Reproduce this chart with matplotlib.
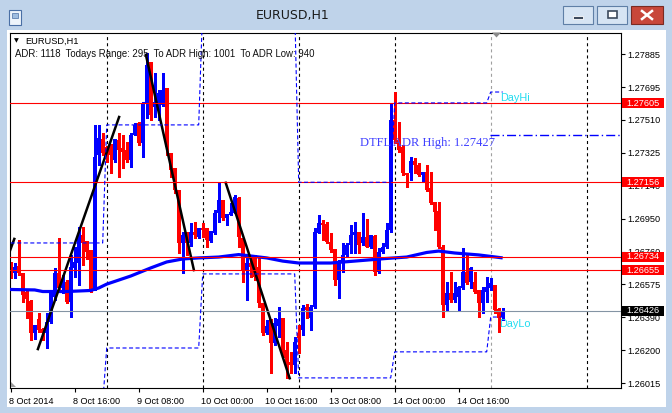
import matplotlib
matplotlib.use('Agg')
import matplotlib.pyplot as plt
import matplotlib.transforms as mtransforms
from matplotlib.patches import Rectangle, Polygon
from matplotlib.lines import Line2D
import numpy as np

plt.rcParams['lines.scale_dashes'] = False

# ---------------------------------------------------------------------------
# Data (EURUSD H1, bar 0 = 8 Oct 2014 00:00)
# ---------------------------------------------------------------------------
opens = [1.26686, 1.26640, 1.26680, 1.26640, 1.26533, 1.26481, 1.26299, 1.26379,
         1.26322, 1.26299, 1.26362, 1.26504, 1.26640, 1.26555, 1.26589, 1.26476,
         1.26669, 1.26697, 1.26857, 1.26822, 1.26771, 1.26555, 1.27311, 1.27402,
         1.27356, 1.27373, 1.27283, 1.27396, 1.27351, 1.27339, 1.27283, 1.27425,
         1.27493, 1.27379, 1.27607, 1.27840, 1.27584, 1.27596, 1.27596, 1.27692,
         1.27322, 1.27238, 1.27112, 1.26811, 1.26857, 1.26811, 1.26874, 1.26845,
         1.26897, 1.26897, 1.26822, 1.26868, 1.26981, 1.27055, 1.26953, 1.26970,
         1.26981, 1.27067, 1.26840, 1.26657, 1.26697, 1.26731, 1.26674, 1.26470,
         1.26299, 1.26379, 1.26242, 1.26339, 1.26385, 1.26203, 1.26135, 1.26118,
         1.26299, 1.26316, 1.26447, 1.26385, 1.26447, 1.26868, 1.26925, 1.26919,
         1.26817, 1.26777, 1.26600, 1.26697, 1.26743, 1.26800, 1.26857, 1.26874,
         1.26811, 1.26845, 1.26788, 1.26851, 1.26646, 1.26760, 1.26788, 1.26885,
         1.27510, 1.27396, 1.27356, 1.27209, 1.27209, 1.27277, 1.27255, 1.27198,
         1.27215, 1.27124, 1.27044, 1.26992, 1.26788, 1.26459, 1.26527, 1.26487,
         1.26504, 1.26555, 1.26646, 1.26589, 1.26589, 1.26544, 1.26470, 1.26533,
         1.26555, 1.26572, 1.26436, 1.26390]
highs = [1.26703, 1.26697, 1.26828, 1.26640, 1.26544, 1.26487, 1.26345, 1.26413,
         1.26328, 1.26413, 1.26533, 1.26669, 1.26840, 1.26629, 1.26600, 1.26743,
         1.26788, 1.26902, 1.26902, 1.26822, 1.26771, 1.27482, 1.27482, 1.27436,
         1.27362, 1.27373, 1.27402, 1.27436, 1.27425, 1.27385, 1.27436, 1.27493,
         1.27499, 1.27613, 1.27891, 1.27840, 1.27777, 1.27680, 1.27777, 1.27692,
         1.27322, 1.27238, 1.27112, 1.26874, 1.26874, 1.26925, 1.26931, 1.26897,
         1.26925, 1.26897, 1.26879, 1.26998, 1.27152, 1.27055, 1.26975, 1.27038,
         1.27084, 1.27072, 1.26840, 1.26743, 1.26743, 1.26743, 1.26731, 1.26470,
         1.26373, 1.26379, 1.26385, 1.26447, 1.26385, 1.26248, 1.26192, 1.26276,
         1.26345, 1.26459, 1.26464, 1.26459, 1.26897, 1.26970, 1.26942, 1.26931,
         1.26868, 1.26777, 1.26714, 1.26811, 1.26811, 1.26914, 1.26931, 1.26874,
         1.26981, 1.26948, 1.26857, 1.26857, 1.26782, 1.26811, 1.26925, 1.27607,
         1.27669, 1.27499, 1.27368, 1.27209, 1.27299, 1.27294, 1.27266, 1.27215,
         1.27255, 1.27215, 1.27044, 1.27044, 1.26800, 1.26589, 1.26646, 1.26589,
         1.26566, 1.26782, 1.26754, 1.26674, 1.26646, 1.26544, 1.26561, 1.26617,
         1.26612, 1.26572, 1.26442, 1.26442]
lows = [1.26612, 1.26612, 1.26629, 1.26476, 1.26385, 1.26259, 1.26265, 1.26305,
        1.26259, 1.26214, 1.26356, 1.26487, 1.26544, 1.26527, 1.26470, 1.26390,
        1.26617, 1.26572, 1.26686, 1.26720, 1.26533, 1.26544, 1.27255, 1.27311,
        1.27272, 1.27209, 1.27272, 1.27186, 1.27238, 1.27272, 1.27243, 1.27425,
        1.27368, 1.27299, 1.27522, 1.27510, 1.27527, 1.27510, 1.27590, 1.27311,
        1.27186, 1.27095, 1.26754, 1.26640, 1.26743, 1.26794, 1.26840, 1.26840,
        1.26845, 1.26788, 1.26817, 1.26862, 1.26931, 1.26942, 1.26914, 1.26970,
        1.26981, 1.26788, 1.26589, 1.26487, 1.26617, 1.26600, 1.26447, 1.26288,
        1.26293, 1.26072, 1.26231, 1.26276, 1.26163, 1.26044, 1.26072, 1.26072,
        1.26186, 1.26288, 1.26385, 1.26316, 1.26442, 1.26868, 1.26828, 1.26811,
        1.26760, 1.26572, 1.26499, 1.26646, 1.26731, 1.26754, 1.26754, 1.26754,
        1.26800, 1.26788, 1.26782, 1.26629, 1.26640, 1.26754, 1.26782, 1.26874,
        1.27379, 1.27328, 1.27198, 1.27129, 1.27169, 1.27209, 1.27192, 1.27158,
        1.27107, 1.27032, 1.26885, 1.26782, 1.26390, 1.26430, 1.26476, 1.26476,
        1.26430, 1.26549, 1.26577, 1.26555, 1.26527, 1.26390, 1.26413, 1.26476,
        1.26544, 1.26413, 1.26305, 1.26373]
closes = [1.26629, 1.26674, 1.26640, 1.26516, 1.26493, 1.26299, 1.26345, 1.26316,
          1.26299, 1.26362, 1.26527, 1.26640, 1.26555, 1.26606, 1.26476, 1.26674,
          1.26703, 1.26851, 1.26811, 1.26760, 1.26544, 1.27299, 1.27408, 1.27322,
          1.27288, 1.27311, 1.27402, 1.27339, 1.27328, 1.27283, 1.27425, 1.27482,
          1.27379, 1.27607, 1.27823, 1.27539, 1.27613, 1.27663, 1.27680, 1.27356,
          1.27226, 1.27112, 1.26811, 1.26857, 1.26811, 1.26874, 1.26857, 1.26897,
          1.26885, 1.26828, 1.26879, 1.26981, 1.27055, 1.26953, 1.26975, 1.26987,
          1.27072, 1.26845, 1.26657, 1.26697, 1.26674, 1.26617, 1.26470, 1.26299,
          1.26339, 1.26242, 1.26356, 1.26379, 1.26186, 1.26129, 1.26118, 1.26248,
          1.26271, 1.26442, 1.26430, 1.26447, 1.26874, 1.26925, 1.26914, 1.26817,
          1.26771, 1.26600, 1.26703, 1.26743, 1.26800, 1.26857, 1.26874, 1.26800,
          1.26845, 1.26788, 1.26857, 1.26646, 1.26760, 1.26788, 1.26885, 1.27510,
          1.27396, 1.27339, 1.27209, 1.27198, 1.27277, 1.27255, 1.27198, 1.27215,
          1.27112, 1.27038, 1.26987, 1.26788, 1.26459, 1.26527, 1.26487, 1.26527,
          1.26561, 1.26646, 1.26583, 1.26669, 1.26533, 1.26470, 1.26544, 1.26561,
          1.26583, 1.26430, 1.26385, 1.26426]

# moving average (thick blue line)
ma_bars = [-1, 6, 8, 14, 20, 22, 24, 30, 35, 39, 43, 47, 52, 57, 60, 64, 68, 72,
           80, 86, 94, 99, 104, 107, 111, 117, 123]
ma_vals = [1.26547, 1.26544, 1.26535, 1.26535, 1.26541, 1.26555, 1.26577, 1.26623,
           1.26669, 1.26703, 1.26720, 1.26726, 1.26731, 1.26745, 1.26737, 1.26726,
           1.26708, 1.26697, 1.26697, 1.26708, 1.26723, 1.26731, 1.26757, 1.26765,
           1.26754, 1.26743, 1.26726]

# black trend lines (start bar, end bar), (start price, end price)
trend_bars = [(6.8, 27.1), (33.8, 45.8), (53.75, 69.75), (-0.5, 0.9)]
trend_prices = [(1.26208, 1.27527), (1.27880, 1.26657), (1.27153, 1.26042), (1.26747, 1.26834)]

# ADR levels (blue dashed steps)
adr_bars = [0, 23, 24, 47, 48, 71, 72, 95, 96, 119, 120, 123]
adr_upper = [1.26811, 1.26811, 1.27482, 1.27482, 1.28150, 1.28150, 1.27156, 1.27156,
             1.27607, 1.27607, 1.27669, 1.27669]
adr_lower = [1.25900, 1.25900, 1.26214, 1.26214, 1.26635, 1.26635, 1.26044, 1.26044,
             1.26192, 1.26192, 1.26390, 1.26390]
adr_high_level = 1.27427

red_levels = [1.27605, 1.27156, 1.26734, 1.26655]
current_price = 1.26426

day_bars = [24, 48, 72, 96, 120, 144]
tick_bars = [0, 16, 32, 48, 64, 80, 96, 112]
time_labels = ['8 Oct 2014', '8 Oct 16:00', '9 Oct 08:00', '10 Oct 00:00',
               '10 Oct 16:00', '13 Oct 08:00', '14 Oct 00:00', '14 Oct 16:00']
price_ticks = [1.27885, 1.27695, 1.27510, 1.27325, 1.27140, 1.26950, 1.26760,
               1.26575, 1.26390, 1.26200, 1.26015]

# ---------------------------------------------------------------------------
W, H = 672, 413
FONT = 'Liberation Sans'
fig = plt.figure(figsize=(W / 100, H / 100), dpi=100, facecolor='#bfd3ea')


def px_rect(x0, y0, x1, y1, **kw):
    return Rectangle((x0 / W, 1 - y1 / H), (x1 - x0) / W, (y1 - y0) / H,
                     transform=fig.transFigure, **kw)


def px_poly(pts, **kw):
    return Polygon([(x / W, 1 - y / H) for x, y in pts], closed=True,
                   transform=fig.transFigure, **kw)


# window client area
fig.add_artist(px_rect(7, 30, 666, 407, facecolor='white', edgecolor='none', zorder=-5))

ax_top, ax_bot = 32.5, 387.5
ax = fig.add_axes([10 / W, 1 - ax_bot / H, 611 / W, (ax_bot - ax_top) / H])
ax.set_facecolor('white')
ax.set_xlim(-0.175, 152.575)
ax.set_ylim(1.28192 - 0.00005684 * ax_bot, 1.28192 - 0.00005684 * ax_top)
for s in ax.spines.values():
    s.set_color('black')
    s.set_linewidth(0.8)

# day separators
for b in day_bars:
    ax.axvline(b, color='#a0a0a0' if b == 120 else 'black', lw=0.8,
               ls=(0, (2.2, 2.2)), zorder=1)

# candles
x = np.arange(len(opens))
o = np.array(opens); c = np.array(closes)
cols = np.where(c >= o, '#0000ff', '#ff0000')
ax.vlines(x, lows, highs, colors=cols, lw=0.8, zorder=2, antialiased=False)
body_h = np.maximum(np.abs(c - o), 0.00004)
ax.bar(x, body_h, bottom=np.minimum(o, c), width=0.75, color=cols, lw=0,
       zorder=2, antialiased=False)

# moving average
ax.plot(ma_bars, ma_vals, color='#0000ff', lw=2.3, zorder=3, solid_capstyle='butt')

# trend lines
for bx, py in zip(trend_bars, trend_prices):
    ax.plot(bx, py, color='black', lw=1.8, zorder=3)

# horizontal levels
for p in red_levels:
    ax.axhline(p, color='#ff0000', lw=0.8, zorder=4)
ax.axhline(current_price, color='#8494a4', lw=0.8, zorder=4)

# ADR steps
ax.plot(adr_bars, adr_upper, color='#0000ff', lw=0.8, ls=(0, (2.9, 1.8)), zorder=4)
ax.plot(adr_bars, adr_lower, color='#0000ff', lw=0.8, ls=(0, (2.9, 1.8)), zorder=4)
ax.plot([119.8, 153], [adr_high_level] * 2, color='#0000ff', lw=1.0,
        ls=(0, (6.5, 2.2, 1, 2.2)), zorder=4)

ax.text(87.3, 1.27379, 'DTFL ADR High: 1.27427', color='#4040ff', fontsize=9,
        family='Liberation Serif', va='center', ha='left', zorder=6)
ax.text(122.3, 1.27635, 'DayHi', color='#22dcf0', fontsize=7.8, family=FONT,
        va='center', ha='left', zorder=6)
ax.text(122.1, 1.26350, 'DayLo', color='#22dcf0', fontsize=7.8, family=FONT,
        va='center', ha='left', zorder=6)

# axes ticks
ax.set_xticks(tick_bars)
ax.set_xticklabels(time_labels, ha='left', family=FONT)
ax.tick_params(axis='x', direction='out', length=3, width=0.8, pad=3.5,
               labelsize=6.6, colors='black')
shift = mtransforms.ScaledTranslation(-2 / 100, 0, fig.dpi_scale_trans)
for lbl in ax.get_xticklabels():
    lbl.set_transform(lbl.get_transform() + shift)
ax.yaxis.tick_right()
ax.set_yticks(price_ticks)
ax.set_yticklabels([f'{v:.5f}' for v in price_ticks], family=FONT)
ax.tick_params(axis='y', direction='out', length=3, width=0.8, pad=1.5,
               labelsize=6.6, colors='black')

# price labels on the right scale
trans = mtransforms.blended_transform_factory(fig.transFigure, ax.transData)
box_h = 10 * 0.00005684
for p, fc in [(v, '#ff0000') for v in red_levels] + [(current_price, 'black')]:
    fig.add_artist(Rectangle((622 / W, p - box_h / 2), 42 / W, box_h,
                             transform=trans, facecolor=fc, edgecolor='none', zorder=5))
    fig.text(626 / W, p, f'{p:.5f}', transform=trans, color='white', fontsize=6.6,
             family=FONT, va='center', ha='left', zorder=6)

# chart header texts
fig.text(16 / W, 1 - 41 / H, '\u25bc', fontsize=4.5, family='DejaVu Sans',
         ha='center', va='center', color='black', zorder=6)
fig.text(25 / W, 1 - 41 / H, 'EURUSD,H1', fontsize=6.7, family=FONT,
         ha='left', va='center', color='black', zorder=6)
fig.text(15 / W, 1 - 54 / H,
         'ADR: 1118  Todays Range: 295  To ADR High: 1001  To ADR Low: 940',
         fontsize=6.95, family=FONT, ha='left', va='center', color='#111111', zorder=6)

# small markers (chart shift, corner grip)
fig.add_artist(px_poly([(492, 32.5), (501, 32.5), (496.5, 37.5)], facecolor='#8a8a8a',
                       edgecolor='none', zorder=6))
fig.add_artist(px_poly([(10.5, 381.5), (10.5, 387), (16, 387)], facecolor='#9a9a9a',
                       edgecolor='none', zorder=6))

# title bar
fig.text(293 / W, 1 - 16 / H, 'EURUSD,H1', fontsize=9, family='DejaVu Sans',
         ha='center', va='center', color='#1a1a1a')
fig.add_artist(px_rect(9, 10, 21, 25, facecolor='#eef4fb', edgecolor='#4a6fa5', lw=0.8))
fig.add_artist(px_rect(12, 13, 18, 18, facecolor='#9fbde0', edgecolor='#4a6fa5', lw=0.5))
fig.add_artist(px_rect(563, 6, 593, 24, facecolor='#d6e4f3', edgecolor='#5f7fa6', lw=0.8))
fig.add_artist(px_rect(573, 16, 583, 19, facecolor='#3c4a5c', edgecolor='white', lw=0.6))
fig.add_artist(px_rect(597, 6, 627, 24, facecolor='#d6e4f3', edgecolor='#5f7fa6', lw=0.8))
fig.add_artist(px_rect(608, 11, 617, 18, facecolor='white', edgecolor='#3c4a5c', lw=1.2))
fig.add_artist(px_rect(631, 6, 663, 24, facecolor='#c8473a', edgecolor='#7a2a22', lw=0.8))
for (x0, y0, x1, y1) in [(642, 11, 652, 19), (642, 19, 652, 11)]:
    fig.add_artist(Line2D([x0 / W, x1 / W], [1 - y0 / H, 1 - y1 / H],
                          transform=fig.transFigure, color='white', lw=1.8))

fig.savefig('out.png', dpi=100, facecolor=fig.get_facecolor())
